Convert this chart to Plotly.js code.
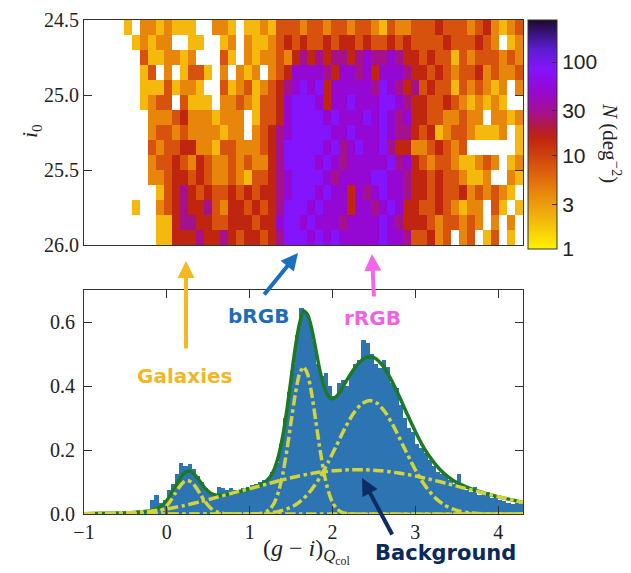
<!DOCTYPE html>
<html><head><meta charset="utf-8">
<script src="https://cdn.plot.ly/plotly-3.0.1.min.js"></script>
<style>html,body{margin:0;padding:0;background:#fff;}#plot{width:631px;height:573px;}</style>
</head><body><div id="plot"></div>
<script>
// ---------- top panel: 2D density N (deg^-2), 0 = empty ----------
var colStart = -1.0, colWidth = 0.1;   // colour bins
var magStart = 24.5, magWidth = 0.1;   // i0 bins
var row00 = [0,0,0,0,0, 2,0,4,4,2, 4,2,2,2,0, 0,4,4,2,0, 2,2,4,2,8, 8,8,4,8,8, 4,8,8,4,8, 8,4,2,8,4, 4,8,8,8,15, 8,8,8,4,8, 15,4,2,4,8];
var row01 = [0,0,0,0,0, 0,2,4,2,4, 4,0,0,2,2, 0,0,2,4,0, 4,2,2,4,8, 15,8,15,8,8, 15,8,15,15,8, 15,8,8,15,8, 15,8,8,8,8, 15,8,8,8,15, 8,4,0,2,4];
var row02 = [0,0,0,0,0, 0,0,8,2,2, 4,4,2,4,0, 0,0,8,2,0, 4,2,4,4,8, 4,15,28,15,28, 15,28,28,15,28, 50,28,28,50,28, 15,15,8,15,8, 8,2,8,4,8, 8,8,4,8,4];
var row03 = [0,0,0,0,0, 0,0,2,8,0, 4,0,2,8,8, 2,0,4,0,4, 2,4,0,4,8, 15,50,50,50,50, 28,15,50,50,28, 50,15,50,50,50, 28,15,15,8,15, 8,4,8,8,15, 4,8,4,4,8];
var row04 = [0,0,0,0,0, 0,0,2,2,2, 8,2,4,4,2, 0,0,8,2,4, 8,2,4,8,15, 28,50,85,50,85, 15,50,50,50,50, 50,28,85,50,28, 15,28,8,15,8, 8,2,8,4,8, 4,2,4,0,4];
var row05 = [0,0,0,0,0, 0,0,2,4,8, 8,0,8,2,2, 2,0,4,4,8, 4,2,8,8,15, 50,85,85,85,50, 15,50,50,85,50, 50,50,85,85,50, 28,15,15,8,8, 15,8,4,2,4, 2,4,2,0,0];
var row06 = [0,0,0,0,0, 0,0,0,4,4, 4,8,15,4,4, 4,2,4,4,4, 0,2,8,8,15, 50,85,85,85,85, 50,85,50,50,50, 85,50,85,50,28, 50,15,15,8,8, 4,4,8,4,4, 0,4,4,2,4];
var row07 = [0,0,0,0,0, 0,0,0,4,8, 8,4,8,4,4, 4,4,2,4,4, 0,4,8,15,28, 50,85,85,85,85, 85,50,50,85,50, 50,50,85,50,28, 28,15,8,15,2, 4,8,8,4,2, 2,2,4,0,2];
var row08 = [0,0,0,0,0, 0,0,0,8,4, 8,8,15,15,4, 4,2,8,8,4, 4,4,8,15,28, 85,85,85,85,85, 50,85,28,50,85, 50,50,85,28,15, 15,4,4,8,15, 8,4,8,0,0, 0,0,0,0,2];
var row09 = [0,0,0,0,0, 0,0,0,4,8, 8,15,8,4,15, 8,4,4,8,4, 8,4,4,15,28, 85,85,85,85,50, 85,50,28,50,50, 50,50,50,85,28, 50,15,8,4,8, 8,4,2,2,4, 8,4,0,2,4];
var row10 = [0,0,0,0,0, 0,0,0,4,4, 8,15,15,8,15, 8,4,4,8,4, 2,8,8,15,28, 50,85,85,85,85, 50,28,50,50,50, 50,85,85,50,50, 28,15,15,8,15, 8,8,4,2,2, 4,0,0,4,2];
var row11 = [0,0,0,0,0, 0,0,0,0,2, 8,15,28,15,8, 15,8,8,15,8, 15,8,15,15,28, 50,85,85,85,50, 85,50,50,15,50, 28,50,85,50,50, 28,15,15,8,15, 8,8,15,4,8, 4,8,4,2,0];
var row12 = [0,0,0,0,0, 0,2,0,0,4, 8,15,28,15,15, 28,8,4,15,15, 8,15,8,15,28, 85,85,85,50,85, 50,50,50,15,50, 50,28,50,85,50, 15,15,8,8,15, 8,4,2,4,4, 0,8,2,0,2];
var row13 = [0,0,0,0,0, 0,0,0,0,2, 2,15,28,28,15, 15,8,8,15,15, 15,8,15,15,50, 85,85,50,85,50, 50,50,28,50,50, 50,50,85,50,28, 15,15,15,8,4, 8,8,4,8,4, 0,4,0,4,0];
var row14 = [0,0,0,0,0, 0,0,0,0,2, 2,15,15,15,28, 15,15,28,15,8, 15,15,8,15,28, 85,85,85,50,85, 50,85,50,50,50, 50,50,85,50,50, 28,8,8,15,4, 8,0,4,8,0, 2,8,0,2,0];
var densityRows = [row00,row01,row02,row03,row04,row05,row06,row07,row08,row09,row10,row11,row12,row13,row14];
var cbarTicks = [1, 3, 10, 30, 100];
var yTicksTop = [24.5, 25.0, 25.5, 26.0];

// ---------- bottom panel: histogram (bin width 0.05 from -1.0) ----------
var histStart = -1.0, histWidth = 0.05;
var histVals = [
 0.003,0.000,0.004,0.002,0.005,0.003,0.004,0.003,0.006,0.004,
 0.008,0.006,0.009,0.007,0.012,0.010,0.045,0.060,0.035,0.045,
 0.075,0.095,0.125,0.160,0.150,0.155,0.140,0.120,0.100,0.080,
 0.065,0.060,0.085,0.080,0.075,0.080,0.075,0.070,0.080,0.085,
 0.090,0.095,0.100,0.105,0.110,0.130,0.160,0.220,0.300,0.380,
 0.470,0.560,0.645,0.630,0.600,0.540,0.470,0.430,0.440,0.400,
 0.370,0.410,0.420,0.400,0.440,0.470,0.480,0.545,0.535,0.500,
 0.470,0.455,0.480,0.460,0.410,0.395,0.340,0.300,0.270,0.255,
 0.220,0.205,0.190,0.170,0.150,0.130,0.125,0.120,0.105,0.095,
 0.125,0.080,0.075,0.070,0.085,0.060,0.065,0.070,0.050,0.055,
 0.045,0.040,0.035,0.030,0.035,0.030];

// model components
var galX = [-1.0,-0.3,-0.25,-0.2,-0.15,-0.1,-0.05,0,0.05,0.1,0.15,0.2,0.25,0.3,0.35,0.4,0.45,0.5,0.55,0.6,0.65,0.7,0.75,0.8,4.3];
var galY = [0,0,0.0004,0.0012,0.003,0.007,0.014,0.026,0.043,0.064,0.084,0.099,0.105,0.099,0.084,0.064,0.043,0.026,0.014,0.007,0.003,0.0012,0.0004,0,0];
var bX = [-1.0,1.05,1.1,1.15,1.2,1.25,1.3,1.35,1.4,1.45,1.5,1.55,1.6,1.65,1.7,1.75,1.8,1.85,1.9,1.95,2.0,2.05,2.1,2.15,2.2,2.25,4.3];
var bY = [0,0,0.001,0.0025,0.007,0.017,0.036,0.071,0.125,0.200,0.288,0.374,0.437,0.46,0.437,0.374,0.288,0.200,0.125,0.071,0.036,0.017,0.007,0.0025,0.001,0,0];
var rX = [-1.0,0.95,1.05,1.15,1.25,1.35,1.45,1.55,1.65,1.75,1.85,1.95,2.05,2.15,2.25,2.35,2.45,2.55,2.65,2.75,2.85,2.95,3.05,3.15,3.25,3.35,3.45,3.55,3.65,3.75,3.85,3.95,4.3];
var rY = [0,0,0.0008,0.0018,0.004,0.008,0.016,0.028,0.048,0.077,0.115,0.163,0.215,0.268,0.313,0.344,0.355,0.344,0.313,0.268,0.215,0.163,0.115,0.077,0.048,0.028,0.016,0.008,0.004,0.0018,0.0008,0,0];
var bgX = [-1.0,-0.8,-0.6,-0.4,-0.2,0.0,0.2,0.4,0.6,0.8,1.0,1.2,1.4,1.6,1.8,2.0,2.2,2.4,2.6,2.8,3.0,3.2,3.4,3.6,3.8,4.0,4.2,4.3];
var bgY = [0.001,0.002,0.003,0.005,0.009,0.016,0.026,0.038,0.052,0.066,0.079,0.093,0.107,0.119,0.129,0.135,0.138,0.138,0.135,0.128,0.119,0.107,0.094,0.080,0.067,0.054,0.042,0.036];
var totX = [-1.0,-0.8,-0.6,-0.4,-0.3,-0.2,-0.15,-0.1,-0.05,0,0.05,0.1,0.15,0.2,0.25,0.3,0.35,0.4,0.45,0.5,0.55,0.6,0.65,0.7,0.8,0.9,1.0,1.05,1.1,1.15,1.2,1.25,1.3,1.35,1.4,1.45,1.5,1.55,1.6,1.65,1.7,1.75,1.8,1.85,1.9,1.95,2.0,2.05,2.1,2.15,2.2,2.3,2.4,2.5,2.6,2.7,2.8,2.9,3.0,3.1,3.2,3.3,3.4,3.5,3.6,3.7,3.8,3.9,4.0,4.1,4.2,4.3];
var totY = [0.001,0.002,0.003,0.005,0.007,0.010,0.014,0.019,0.028,0.042,0.061,0.085,0.107,0.125,0.134,0.131,0.119,0.102,0.084,0.071,0.062,0.059,0.0585,0.060,0.066,0.072,0.079,0.084,0.088,0.093,0.103,0.117,0.142,0.183,0.244,0.326,0.423,0.518,0.593,0.635,0.623,0.578,0.512,0.446,0.397,0.368,0.360,0.368,0.385,0.408,0.430,0.467,0.489,0.489,0.466,0.424,0.371,0.313,0.258,0.208,0.169,0.138,0.115,0.098,0.086,0.076,0.068,0.060,0.054,0.048,0.042,0.036];
var xTicksBottom = [-1, 0, 1, 2, 3, 4];
var yTicksBottom = [0.0, 0.2, 0.4, 0.6];

// ---------- build traces ----------
var W = 631, H = 573;
var hx = densityRows[0].map(function(_, c){ return colStart + colWidth*(c+0.5); });
var hy = densityRows.map(function(_, r){ return magStart + magWidth*(r+0.5); });
var hz = densityRows.map(function(row){ return row.map(function(v){ return v > 0 ? Math.log10(v) : null; }); });
var cmap = [
 [0,'#fff200'],[0.123,'#f4b90c'],[0.246,'#e8860c'],[0.369,'#d6520d'],[0.48,'#c0260f'],
 [0.53,'#b31b3a'],[0.59,'#a5118a'],[0.693,'#9508d4'],[0.787,'#8414fb'],[0.87,'#5a1ed0'],
 [0.94,'#3a1480'],[1,'#1c0a28']];

var heat = {type:'heatmap', x:hx, y:hy, z:hz, xaxis:'x', yaxis:'y', zmin:0, zmax:2.45,
  colorscale:cmap, zsmooth:false, hoverinfo:'skip',
  colorbar:{x:528/W, xanchor:'left', y:1-249/H, yanchor:'bottom', len:229/H, lenmode:'fraction',
    thickness:29, thicknessmode:'pixels', outlinewidth:1, outlinecolor:'#333',
    tickvals:cbarTicks.map(function(v){return Math.log10(v);}), ticktext:cbarTicks.map(String),
    ticks:'inside', ticklen:5, tickcolor:'#333', tickfont:{family:'Liberation Sans', size:21, color:'#222'}, xpad:0, ypad:0}};

var barX = histVals.map(function(_, i){ return histStart + histWidth*(i+0.5); });
var bars = {type:'bar', x:barX, y:histVals, width:histWidth, xaxis:'x2', yaxis:'y2',
  marker:{color:'#2d74b3', line:{width:0}}, hoverinfo:'skip'};
var lineStyle = {color:'#d2d43a', width:3.5, dash:'dashdot', shape:'spline', smoothing:0.6};
function comp(x, y){ return {type:'scatter', mode:'lines', x:x, y:y, xaxis:'x2', yaxis:'y2', line:lineStyle, hoverinfo:'skip'}; }
var total = {type:'scatter', mode:'lines', x:totX, y:totY, xaxis:'x2', yaxis:'y2',
  line:{color:'#1c7a25', width:3.5, shape:'spline', smoothing:0.6}, hoverinfo:'skip'};

var axFont = {family:'Liberation Serif', size:20, color:'#222'};
var lblFont = 'DejaVu Sans';
function txt(x, y, s, size, color, family, angle){
  return {xref:'paper', yref:'paper', x:x/W, y:1-y/H, text:s, showarrow:false, xanchor:'center', yanchor:'middle',
    textangle:angle||0, font:{family:family, size:size, color:color}};
}
function arrow(tx, ty, dx, dy, color){
  return {xref:'paper', yref:'paper', x:tx/W, y:1-ty/H, ax:dx, ay:dy, text:'', showarrow:true,
    arrowcolor:color, arrowwidth:4, arrowhead:2, arrowsize:0.85};
}
var layout = {
  width:W, height:H, margin:{l:0,r:0,t:0,b:0}, showlegend:false,
  paper_bgcolor:'#fff', plot_bgcolor:'#fff', bargap:0,
  xaxis:{domain:[84/W, 523/W], range:[-1, 4.5], anchor:'y', showline:true, mirror:true, linecolor:'#333', linewidth:1,
    ticks:'', showticklabels:false, showgrid:false, zeroline:false},
  yaxis:{domain:[1-245/H, 1-20/H], range:[26.0, 24.5], anchor:'x', tickvals:yTicksTop, tickformat:'.1f',
    ticks:'inside', ticklen:8, tickcolor:'#333', showline:true, mirror:'ticks', linecolor:'#333', linewidth:1,
    showgrid:false, zeroline:false, tickfont:axFont},
  xaxis2:{domain:[84/W, 523/W], range:[-1, 4.3], anchor:'y2', tickvals:xTicksBottom,
    ticks:'inside', ticklen:8, tickcolor:'#333', showline:true, mirror:'ticks', linecolor:'#333', linewidth:1,
    showgrid:false, zeroline:false, tickfont:axFont, ticklabelstandoff:0},
  yaxis2:{domain:[1-514/H, 1-290/H], range:[0, 0.7], anchor:'x2', tickvals:yTicksBottom, tickformat:'.1f',
    ticks:'inside', ticklen:8, tickcolor:'#333', showline:true, mirror:'ticks', linecolor:'#333', linewidth:1,
    showgrid:false, zeroline:false, tickfont:axFont, ticklabelstandoff:4},
  annotations:[
    txt(31, 131, '<i>i</i><sub>0</sub>', 22, '#222', 'Liberation Serif', -90),
    txt(612, 143, '<i>N</i> (deg<sup>−2</sup>)', 21, '#222', 'Liberation Serif', 90),
    txt(306, 551, '(<i>g</i> − <i>i</i>)<sub><i>Q</i><sub>col</sub></sub>', 24, '#222', 'Liberation Serif', 0),
    arrow(186, 261, 0, 89, '#f5b820'),
    arrow(298, 253, -35, 43, '#1b6fbf'),
    arrow(372, 254, 2, 44, '#f068ea'),
    arrow(362, 478, 31, 58, '#0b2d63'),
    txt(185, 376, '<b>Galaxies</b>', 20, '#f0b728', lblFont),
    txt(258, 316, '<b>bRGB</b>', 20, '#1f6db5', lblFont),
    txt(372, 318, '<b>rRGB</b>', 20, '#ee62e6', lblFont),
    txt(445, 553, '<b>Background</b>', 21, '#0a2a5c', lblFont)
  ]
};
Plotly.newPlot('plot', [heat, bars, total, comp(bgX,bgY), comp(galX,galY), comp(bX,bY), comp(rX,rY)], layout, {staticPlot:true, displayModeBar:false});
</script></body></html>
